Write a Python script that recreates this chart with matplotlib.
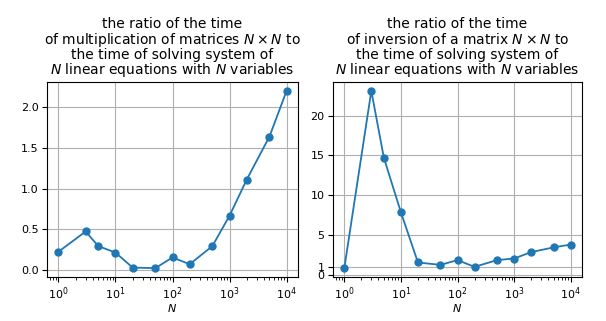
import matplotlib
matplotlib.use("Agg")
import matplotlib.pyplot as plt

N = [1, 3, 5, 10, 20, 50, 100, 200, 500, 1000, 2000, 5000, 10000]
mult_ratio = [0.22, 0.47, 0.29, 0.21, 0.025, 0.018, 0.15, 0.066, 0.29, 0.665, 1.11, 1.64, 2.205]
inv_ratio = [0.84, 23.1, 14.7, 7.85, 1.55, 1.25, 1.85, 1.0, 1.85, 2.05, 2.85, 3.45, 3.8]
inv_yticks = [0, 1, 5, 10, 15, 20]

title_left = ["the ratio of the time",
              "of multiplication of matrices $N \\times N$ to",
              "the time of solving system of",
              "$N$ linear equations with $N$ variables"]
title_right = ["the ratio of the time",
               "of inversion of a matrix $N \\times N$ to",
               "the time of solving system of",
               "$N$ linear equations with $N$ variables"]
line_offsets = [38.7, 27.6, 16.8, 5.5]

fig = plt.figure(figsize=(6.06, 3.21), dpi=100)
ax1 = fig.add_axes([47/606, 1 - 277/321, 251/606, 195/321])
ax2 = fig.add_axes([333/606, 1 - 277/321, 249/606, 195/321])

for ax, y, t in [(ax1, mult_ratio, title_left), (ax2, inv_ratio, title_right)]:
    ax.plot(N, y, 'o-', color='#1f77b4', markersize=5, linewidth=1.3)
    ax.set_xscale('log')
    ax.set_xlabel('$N$', fontsize=8, labelpad=0)
    for line, off in zip(t, line_offsets):
        ax.annotate(line, xy=(0.5, 1.0), xycoords='axes fraction',
                    xytext=(0, off), textcoords='offset points',
                    ha='center', va='baseline', fontsize=10)
    ax.grid(True)
    ax.tick_params(labelsize=8, pad=2.5)

ax2.set_yticks(inv_yticks)

fig.savefig("out.png", dpi=100)
